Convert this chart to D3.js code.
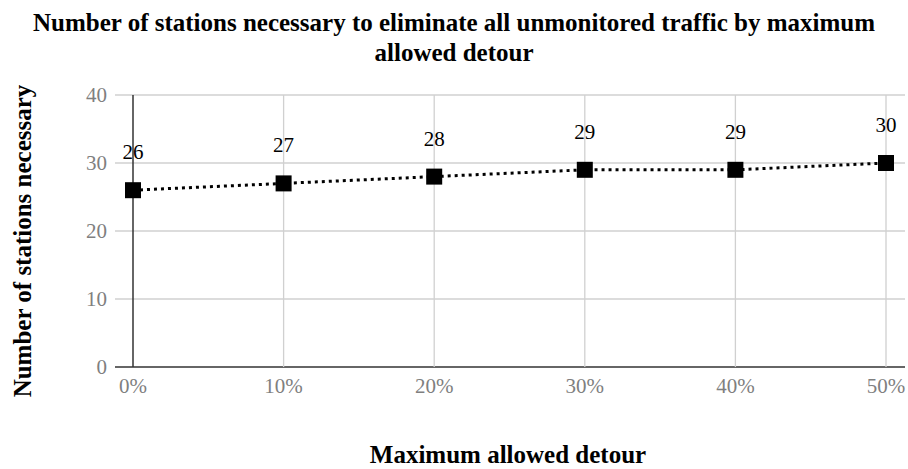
<!DOCTYPE html>
<html><head><meta charset="utf-8">
<script src="https://cdn.jsdelivr.net/npm/d3@7"></script>
<style>body{margin:0;background:#fff}</style>
</head><body>
<svg id="c" width="908" height="469"></svg>
<script>
const categories = ["0%","10%","20%","30%","40%","50%"];
const values = [26,27,28,29,29,30];
const yTicks = [0,10,20,30,40];

const svg = d3.select("#c");
const font = "'Liberation Serif','Times New Roman',serif";
const x = d3.scalePoint().domain(categories).range([133,886]);
const y = d3.scaleLinear().domain([0,40]).range([367,95]);

// horizontal grid
svg.selectAll(".hg").data(yTicks).enter().append("line")
  .attr("x1",115).attr("x2",905).attr("y1",d=>y(d)).attr("y2",d=>y(d))
  .attr("stroke",d=>d===0?"#333":"#d0d0d0").attr("stroke-width",d=>d===0?1.5:1.3);
// vertical grid
svg.selectAll(".vg").data(categories).enter().append("line")
  .attr("x1",d=>x(d)).attr("x2",d=>x(d)).attr("y1",95).attr("y2",367)
  .attr("stroke",(d,i)=>i===0?"#333":"#d0d0d0").attr("stroke-width",(d,i)=>i===0?1.5:1.3);

// y tick labels
svg.selectAll(".yl").data(yTicks).enter().append("text")
  .attr("x",107).attr("y",d=>y(d)+7).attr("text-anchor","end")
  .attr("font-family",font).attr("font-size",21).attr("fill","#7f7f7f").text(d=>d);
// x tick labels
svg.selectAll(".xl").data(categories).enter().append("text")
  .attr("x",d=>x(d)).attr("y",393).attr("text-anchor","middle")
  .attr("font-family",font).attr("font-size",21).attr("fill","#7f7f7f").text(d=>d);

// line
const line = d3.line().x((d,i)=>x(categories[i])).y(d=>y(d));
svg.append("path").datum(values).attr("d",line).attr("fill","none")
  .attr("stroke","#000").attr("stroke-width",3).attr("stroke-dasharray","3,4");
// markers
svg.selectAll(".m").data(values).enter().append("rect")
  .attr("x",(d,i)=>x(categories[i])-8).attr("y",d=>y(d)-8).attr("width",16).attr("height",16).attr("fill","#000");
// data labels
svg.selectAll(".dl").data(values).enter().append("text")
  .attr("x",(d,i)=>x(categories[i])).attr("y",d=>y(d)-31).attr("text-anchor","middle")
  .attr("font-family",font).attr("font-size",21).attr("fill","#000").text(d=>d);

// title
const title = svg.append("text").attr("text-anchor","middle").attr("font-family",font)
  .attr("font-size",25).attr("font-weight","bold").attr("fill","#000");
title.append("tspan").attr("x",454).attr("y",31).text("Number of stations necessary to eliminate all unmonitored traffic by maximum");
title.append("tspan").attr("x",454).attr("y",61).text("allowed detour");

// axis titles
svg.append("text").attr("x",508).attr("y",463).attr("text-anchor","middle").attr("font-family",font)
  .attr("font-size",25).attr("font-weight","bold").text("Maximum allowed detour");
svg.append("text").attr("transform","translate(31,241) rotate(-90)").attr("text-anchor","middle").attr("font-family",font)
  .attr("font-size",25).attr("font-weight","bold").text("Number of stations necessary");
</script>
</body></html>
